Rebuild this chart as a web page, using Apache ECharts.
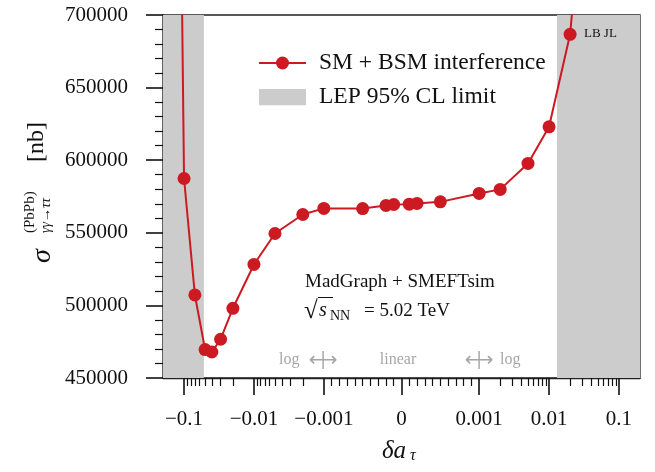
<!DOCTYPE html>
<html>
<head>
<meta charset="utf-8">
<script src="https://cdn.jsdelivr.net/npm/echarts@6/dist/echarts.min.js"></script>
<style>
html,body{margin:0;padding:0;background:#fff;}
#chart{width:655px;height:472px;}
</style>
</head>
<body>
<div id="chart"></div>
<script>
// ---- data ----
const deltaA = [-0.2, -0.1, -0.07, -0.05, -0.04, -0.03, -0.02, -0.01, -0.005, -0.002, -0.001, -0.0005, -0.0002, -0.0001,
                0.0001, 0.0002, 0.0005, 0.001, 0.002, 0.005, 0.01, 0.02, 0.03];
const sigmaNb = [1840000, 587400, 507200, 469600, 467900, 476700, 498000, 528200, 549500, 562600, 566800, 566700, 568800, 569500,
                 569700, 570200, 571300, 577100, 579900, 597800, 623000, 686700, 780000];
const lepLimits = [-0.052, 0.013];
const xRange = [-0.2, 0.2];
const majorTicks = [-0.1, -0.01, -0.001, 0, 0.001, 0.01, 0.1];
const majorLabels = ['\u22120.1', '\u22120.01', '\u22120.001', '0', '0.001', '0.01', '0.1'];
const minorTicks = [
  -0.09,-0.08,-0.07,-0.06,-0.05,-0.04,-0.03,-0.02,
  -0.009,-0.008,-0.007,-0.006,-0.005,-0.004,-0.003,-0.002,
  -0.0009,-0.0008,-0.0007,-0.0006,-0.0005,-0.0004,-0.0003,-0.0002,-0.0001,
  0.0001,0.0002,0.0003,0.0004,0.0005,0.0006,0.0007,0.0008,0.0009,
  0.002,0.003,0.004,0.005,0.006,0.007,0.008,0.009,
  0.02,0.03,0.04,0.05,0.06,0.07,0.08,0.09
];
const yRange = [450000, 700000];
const yStep = 50000;

// symmetric log transform (matplotlib symlog, base 10, linthresh 1e-3, linscale 1)
const LINTHRESH = 0.001;
const LINSCALE_ADJ = 1 / (1 - 1 / 10);
function symlog(v) {
  const a = Math.abs(v);
  if (a <= LINTHRESH) return v / LINTHRESH * LINSCALE_ADJ;
  return Math.sign(v) * (LINSCALE_ADJ + Math.log10(a / LINTHRESH));
}

const SERIF = '"Liberation Serif", "DejaVu Serif", serif';
const RED = '#cb1a22';
const GREY = '#cccccc';
const TXTGREY = '#a6a6a6';

const chart = echarts.init(document.getElementById('chart'), null, {renderer: 'canvas'});

const xMin = symlog(xRange[0]), xMax = symlog(xRange[1]);

function txt(x, y, text, font, extra) {
  return Object.assign({type: 'text', x: x, y: y, z: 100, silent: true,
    style: Object.assign({text: text, font: font, fill: '#111', align: 'left', verticalAlign: 'middle'}, extra || {})});
}

const option = {
  animation: false,
  backgroundColor: '#fff',
  grid: {left: 163, right: 15, top: 15, bottom: 94, show: true, borderColor: '#222', borderWidth: 1.3, backgroundColor: 'transparent'},
  legend: {
    orient: 'vertical', left: 253, top: 46, itemWidth: 47, itemHeight: 16.25, itemGap: 10,
    textStyle: {fontFamily: SERIF, fontSize: 23.5, color: '#111', lineHeight: 24, padding: [0, 0, 0, 8]},
    data: [
      {name: 'SM + BSM interference'},
      {name: 'LEP 95% CL limit', icon: 'rect', itemStyle: {color: GREY, opacity: 1}}
    ]
  },
  xAxis: [
    {
      type: 'value', min: xMin, max: xMax, position: 'bottom',
      axisLine: {show: true, onZero: false, lineStyle: {color: '#222', width: 1.3}},
      splitLine: {show: false},
      axisTick: {show: true, length: 17, customValues: majorTicks.map(symlog), lineStyle: {color: '#111', width: 1.6}},
      axisLabel: {
        show: true, margin: 31, fontFamily: SERIF, fontSize: 21, color: '#111',
        customValues: majorTicks.map(symlog),
        formatter: function (v) {
          let best = 0, bd = Infinity;
          majorTicks.forEach(function (t, i) { const d = Math.abs(symlog(t) - v); if (d < bd) { bd = d; best = i; } });
          return majorLabels[best];
        }
      }
    },
    {
      type: 'value', min: xMin, max: xMax, position: 'bottom',
      axisLine: {show: false, onZero: false},
      splitLine: {show: false},
      axisTick: {show: true, length: 8, customValues: minorTicks.map(symlog), lineStyle: {color: '#111', width: 1.2}},
      axisLabel: {show: false}
    }
  ],
  yAxis: {
    type: 'value', min: yRange[0], max: yRange[1], interval: yStep,
    axisLine: {show: true, onZero: false, lineStyle: {color: '#222', width: 1.3}},
    splitLine: {show: false},
    axisTick: {show: true, length: 17, lineStyle: {color: '#111', width: 1.6}},
    minorTick: {show: true, splitNumber: 5, length: 8, lineStyle: {color: '#111', width: 1.2}},
    minorSplitLine: {show: false},
    axisLabel: {margin: 35, fontFamily: SERIF, fontSize: 21, color: '#111', formatter: function (v) { return String(v); }}
  },
  series: [
    {
      name: 'LEP 95% CL limit', type: 'scatter', data: [], z: 1,
      itemStyle: {color: GREY, opacity: 1},
      markArea: {
        silent: true, itemStyle: {color: GREY, opacity: 1},
        data: [
          [{xAxis: xMin}, {xAxis: symlog(lepLimits[0])}],
          [{xAxis: symlog(lepLimits[1])}, {xAxis: xMax}]
        ]
      }
    },
    {
      name: 'SM + BSM interference', type: 'line', z: 3, clip: true,
      data: deltaA.map(function (d, i) { return [symlog(d), sigmaNb[i]]; }),
      symbol: 'circle', symbolSize: 13, showAllSymbol: true,
      lineStyle: {color: RED, width: 2},
      itemStyle: {color: RED}
    }
  ],
  graphic: [
    // y-axis title
    {
      type: 'group', x: 50, y: 197, rotation: Math.PI / 2, silent: true, z: 100,
      children: [
        {type: 'text', x: -66, y: -7, style: {text: 'σ', font: 'italic 28px ' + SERIF, fill: '#111', align: 'left', verticalAlign: 'middle'}},
        {type: 'text', x: -36, y: -20, style: {text: '(PbPb)', font: '15px ' + SERIF, fill: '#111', align: 'left', verticalAlign: 'middle'}},
        {type: 'text', x: -36, y: -4, style: {text: 'γγ→ττ', font: 'italic 14px ' + SERIF, fill: '#111', align: 'left', verticalAlign: 'middle'}},
        {type: 'text', x: 35, y: -13, style: {text: '[nb]', font: '24px ' + SERIF, fill: '#111', align: 'left', verticalAlign: 'middle'}}
      ]
    },
    // x-axis title
    txt(382, 451, 'δa', 'italic 25px ' + SERIF),
    txt(410, 456, 'τ', 'italic 16px ' + SERIF),
    // annotations
    txt(305, 282, 'MadGraph + SMEFTsim', '19px ' + SERIF),
    txt(304, 311, '√', '25px ' + SERIF),
    {type: 'line', silent: true, z: 100, shape: {x1: 318, y1: 297.5, x2: 333, y2: 297.5}, style: {stroke: '#111', lineWidth: 1}},
    txt(319, 311, 's', 'italic 20px ' + SERIF),
    txt(330, 316, 'NN', '14px ' + SERIF),
    txt(364, 311, '= 5.02 TeV', '19px ' + SERIF),
    txt(584, 34, 'LB JL', '13px ' + SERIF),
    // log <-> linear <-> log
    txt(279, 360, 'log', '16px ' + SERIF, {fill: TXTGREY}),
    txt(323, 361, '⟷', '20px "DejaVu Sans"', {fill: TXTGREY, align: 'center'}),
    txt(323, 361, '|', '17px "DejaVu Sans"', {fill: TXTGREY, align: 'center'}),
    txt(398, 360, 'linear', '16px ' + SERIF, {fill: TXTGREY, align: 'center'}),
    txt(479, 361, '⟷', '20px "DejaVu Sans"', {fill: TXTGREY, align: 'center'}),
    txt(479, 361, '|', '17px "DejaVu Sans"', {fill: TXTGREY, align: 'center'}),
    txt(500, 360, 'log', '16px ' + SERIF, {fill: TXTGREY})
  ]
};
chart.setOption(option);
</script>
</body>
</html>
